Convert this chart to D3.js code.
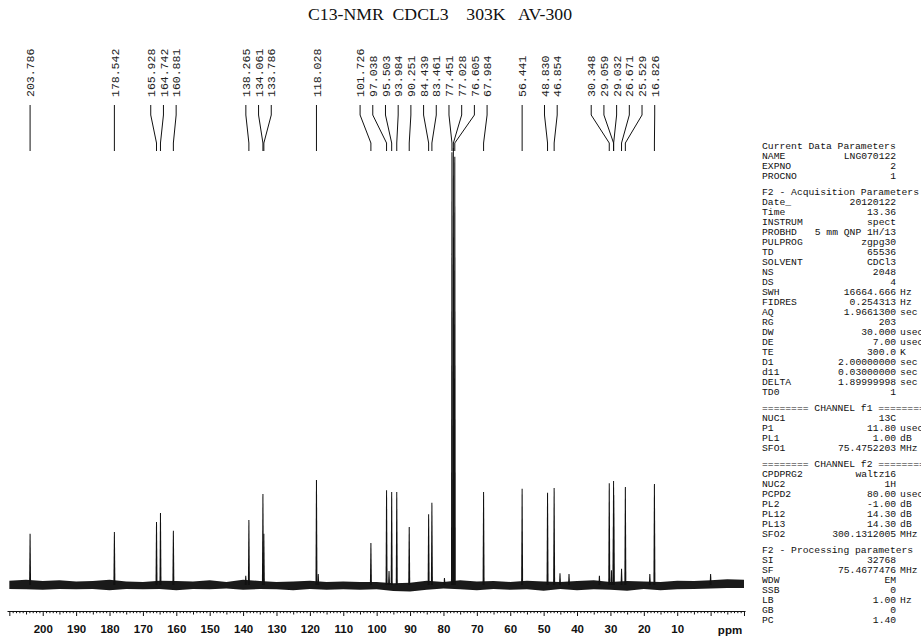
<!DOCTYPE html>
<html>
<head>
<meta charset="utf-8">
<script src="https://cdn.jsdelivr.net/npm/d3@7"></script>
<style>
  body { margin: 0; background: #fff; }
  svg { display: block; }
</style>
</head>
<body>
<svg id="chart" width="921" height="640"></svg>
<script>
// labelled peaks (ppm) and their heights (% of the solvent peak)
const peakPpm = [203.786, 178.542, 165.928, 164.742, 160.881, 138.265, 134.061, 133.786, 118.028,
  101.726, 97.038, 95.503, 93.984, 90.251, 84.439, 83.461, 77.451, 77.028, 76.605, 67.984,
  56.441, 48.830, 46.854, 30.348, 29.059, 29.032, 26.671, 25.529, 16.826];
const peakHeight = [11.7, 12.1, 14.4, 16.5, 12.4, 14.9, 20.8, 11.7, 24.0,
  9.6, 21.7, 21.3, 21.3, 13.3, 16.2, 18.8, 99, 100, 98, 21.3,
  22.0, 21.1, 22.2, 23.3, 23.8, 20.6, 3.7, 22.4, 23.1];

// small unlabelled peaks
const minorPpm = [139.2, 117.5, 96.3, 79.7, 45.1, 42.4, 33.3, 29.7, 18.2, 0.0];
const minorHeight = [2.1, 2.5, 3.2, 1.6, 2.7, 2.5, 2.1, 3.4, 2.5, 2.5];

// baseline noise envelope, read every 5 ppm
const noisePpm = [210, 205, 200, 195, 190, 185, 180, 175, 170, 165, 160, 155, 150, 145, 140,
  135, 130, 125, 120, 115, 110, 105, 100, 95, 90, 85, 80, 75, 70, 65, 60, 55, 50, 45, 40,
  35, 30, 25, 20, 15, 10, 5, 0, -5, -10];
const noiseHi = [1.0, 1.2, 0.9, 1.1, 0.8, 0.9, 1.2, 0.8, 0.7, 1.0, 0.9, 0.8, 1.1, 0.7, 1.2,
  0.9, 0.7, 0.8, 1.0, 0.7, 0.8, 0.7, 0.7, 0.4, 0.5, 1.0, 0.7, 1.1, 0.8, 0.9, 0.7, 1.0, 0.8,
  0.7, 0.9, 1.1, 0.7, 0.9, 0.8, 0.7, 1.0, 0.9, 1.1, 1.3, 1.2];
const noiseLo = [-0.9, -1.0, -1.1, -0.9, -1.0, -0.9, -1.2, -0.9, -1.0, -0.9, -1.2, -0.9, -1.0, -0.8, -1.1,
  -0.9, -1.0, -1.2, -0.9, -1.1, -1.0, -1.1, -1.0, -1.4, -1.5, -1.1, -0.8, -1.0, -1.2, -0.9,
  -1.1, -1.0, -1.3, -0.9, -1.2, -1.0, -1.1, -1.3, -0.9, -1.2, -1.0, -0.9, -0.8, -0.7, -0.7];

const axisLabels = [200, 190, 180, 170, 160, 150, 140, 130, 120, 110, 100, 90, 80, 70, 60, 50, 40, 30, 20, 10];

const titleText = "C13-NMR  CDCL3    303K   AV-300";

// parameter listing: heading first, then [name, value, unit] rows
const paramsCurrent = ["Current Data Parameters",
  ["NAME", "LNG070122"], ["EXPNO", "2"], ["PROCNO", "1"]];
const paramsAcq = ["F2 - Acquisition Parameters",
  ["Date_", "20120122"], ["Time", "13.36"], ["INSTRUM", "spect"], ["PROBHD", "5 mm QNP 1H/13"],
  ["PULPROG", "zgpg30"], ["TD", "65536"], ["SOLVENT", "CDCl3"], ["NS", "2048"], ["DS", "4"],
  ["SWH", "16664.666", "Hz"], ["FIDRES", "0.254313", "Hz"], ["AQ", "1.9661300", "sec"],
  ["RG", "203"], ["DW", "30.000", "usec"], ["DE", "7.00", "usec"], ["TE", "300.0", "K"],
  ["D1", "2.00000000", "sec"], ["d11", "0.03000000", "sec"], ["DELTA", "1.89999998", "sec"],
  ["TD0", "1"]];
const paramsF1 = ["======== CHANNEL f1 ========",
  ["NUC1", "13C"], ["P1", "11.80", "usec"], ["PL1", "1.00", "dB"], ["SFO1", "75.4752203", "MHz"]];
const paramsF2 = ["======== CHANNEL f2 ========",
  ["CPDPRG2", "waltz16"], ["NUC2", "1H"], ["PCPD2", "80.00", "usec"], ["PL2", "-1.00", "dB"],
  ["PL12", "14.30", "dB"], ["PL13", "14.30", "dB"], ["SFO2", "300.1312005", "MHz"]];
const paramsProc = ["F2 - Processing parameters",
  ["SI", "32768"], ["SF", "75.4677476", "MHz"], ["WDW", "EM"], ["SSB", "0"],
  ["LB", "1.00", "Hz"], ["GB", "0"], ["PC", "1.40"]];


const svg = d3.select("#chart");
const ink = "#111";

const x = d3.scaleLinear().domain([210.7, -10.3]).range([7, 745]);
const y = d3.scaleLinear().domain([0, 100]).range([585, 148]);

// title
svg.append("text")
  .attr("x", 308).attr("y", 20)
  .attr("textLength", 264).attr("lengthAdjust", "spacingAndGlyphs")
  .style("white-space", "pre")
  .attr("font-family", "'Liberation Serif', 'Times New Roman', serif")
  .attr("font-size", 17)
  .attr("fill", ink)
  .text(titleText);

// baseline noise band
const noise = noisePpm.map((p, i) => ({ppm: p, hi: noiseHi[i], lo: noiseLo[i]}));
svg.append("path")
  .datum(noise)
  .attr("fill", "#1a1a1a")
  .attr("d", d3.area().x(d => x(d.ppm)).y0(d => y(d.lo)).y1(d => y(d.hi)));

// peaks as thin spikes
const spike = (p, h) => {
  const px = x(p), y0 = y(0), y1 = y(h);
  return `M${px - 1.0},${y0}L${px - 0.5},${y1}L${px + 0.5},${y1}L${px + 1.0},${y0}Z`;
};
const allPeaks = peakPpm.map((p, i) => [p, peakHeight[i]])
  .concat(minorPpm.map((p, i) => [p, minorHeight[i]]));
svg.append("g")
  .attr("fill", ink)
  .selectAll("path")
  .data(allPeaks)
  .join("path")
  .attr("d", d => spike(d[0], d[1]));

// peak labels: spread overlapping labels around the mean of their peaks
function spreadLabels(xs, gap) {
  let groups = xs.map((v, i) => ({members: [i], center: v}));
  let merged = true;
  while (merged) {
    merged = false;
    for (let i = 0; i < groups.length - 1; i++) {
      const a = groups[i], b = groups[i + 1];
      const aEnd = a.center + (a.members.length - 1) * gap / 2;
      const bStart = b.center - (b.members.length - 1) * gap / 2;
      if (bStart - aEnd < gap) {
        const members = a.members.concat(b.members);
        groups.splice(i, 2, {members, center: d3.mean(members, j => xs[j])});
        merged = true;
        break;
      }
    }
  }
  const out = [];
  groups.forEach(g => g.members.forEach((j, k) => {
    out[j] = g.center + (k - (g.members.length - 1) / 2) * gap;
  }));
  return out;
}

const peakX = peakPpm.map(p => x(p));
const labelX = spreadLabels(peakX, 12.7);

const lab = svg.append("g");
lab.selectAll("text")
  .data(peakPpm)
  .join("text")
  .attr("transform", (d, i) => `translate(${labelX[i]},97) rotate(-90)`)
  .attr("dy", "0.36em")
  .attr("font-family", "'Liberation Mono', 'Courier New', monospace")
  .attr("font-size", 11.5)
  .attr("fill", "#222")
  .text(d => d.toFixed(3));

lab.selectAll("path")
  .data(peakPpm)
  .join("path")
  .attr("fill", "none")
  .attr("stroke", ink)
  .attr("stroke-width", 1)
  .attr("d", (d, i) => `M${labelX[i]},105V115L${peakX[i]},143V151`);

// ppm axis
const axisY = 611;
const axis = d3.axisBottom(x)
  .tickValues(d3.range(-10, 211, 1))
  .tickSizeOuter(0)
  .tickFormat(d => axisLabels.includes(d) ? d : "");
const gAxis = svg.append("g")
  .attr("transform", `translate(0,${axisY})`)
  .call(axis);
gAxis.select(".domain").attr("stroke", ink).attr("stroke-width", 1.2);
gAxis.selectAll(".tick line")
  .attr("stroke", ink)
  .attr("y2", d => d % 10 === 0 ? 5 : d % 5 === 0 ? 3.5 : 2.2);
gAxis.selectAll(".tick text")
  .attr("y", 22).attr("dy", null)
  .attr("font-family", "'Liberation Sans', Arial, sans-serif")
  .attr("font-weight", "bold")
  .attr("font-size", 11.5)
  .attr("fill", ink);

svg.append("text")
  .attr("x", 730).attr("y", 634)
  .attr("text-anchor", "middle")
  .attr("font-family", "'Liberation Sans', Arial, sans-serif")
  .attr("font-weight", "bold")
  .attr("font-size", 11.5)
  .attr("fill", ink)
  .text("ppm");

// parameter panel
const panelX = 762, cw = 5.83, lineH = 10, blockGap = 6;
const valueEnd = panelX + 23 * cw, unitX = valueEnd + 4;
const blocks = [paramsCurrent, paramsAcq, paramsF1, paramsF2, paramsProc];
const rows = [];
let yy = 149;
blocks.forEach((b, bi) => {
  if (bi > 0) yy += blockGap;
  b.forEach(r => { rows.push({r, y: yy}); yy += lineH; });
});

const panel = svg.append("g")
  .attr("font-family", "'Liberation Mono', 'Courier New', monospace")
  .attr("font-size", 9.7)
  .attr("fill", ink)
  .style("white-space", "pre");

rows.forEach(({r, y: ry}) => {
  if (typeof r === "string") {
    panel.append("text").attr("x", panelX).attr("y", ry).text(r);
    return;
  }
  panel.append("text").attr("x", panelX).attr("y", ry).text(r[0]);
  panel.append("text").attr("x", valueEnd).attr("y", ry)
    .attr("text-anchor", "end").text(r[1]);
  if (r[2]) panel.append("text").attr("x", unitX).attr("y", ry).text(r[2]);
});
</script>
</body>
</html>
